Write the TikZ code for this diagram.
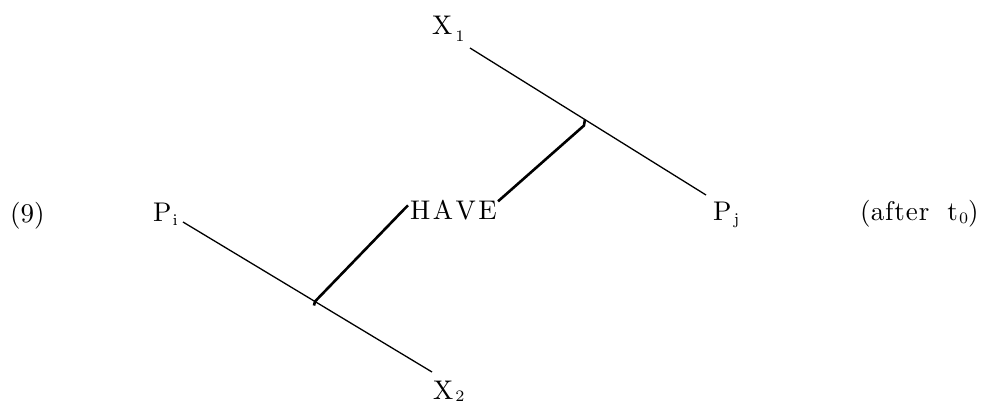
\documentclass[tikz,border=0pt]{standalone}
\font\bigrm=cmr10 at 27pt
\font\subrm=cmr7 at 16pt
\newcommand{\lowsub}[2][5pt]{\raisebox{-#1}{\subrm #2}}
\begin{document}
\begin{tikzpicture}[x=1pt,y=-1pt,
  lbl/.style={font=\bigrm, inner sep=0pt, anchor=base west},
  thinline/.style={line width=1.3pt},
  thickline/.style={line width=2.6pt}]
\useasboundingbox (0,0) rectangle (981,404);
\node[lbl] (nine) at (10,222) {(9)};
\node[lbl] (Pi) at (153,221) {P\kern1pt\lowsub[4pt]{i}};
\node[lbl] (HAVE) at (410,219) {H\kern2.5pt A\kern2.5pt V\kern2.5pt E};
\node[lbl] (Pj) at (713,220) {P\kern2pt\lowsub[4pt]{j}};
\node[lbl] (after) at (860,220) {(a\kern1pt f\kern1pt t\kern1pt e\kern1pt r\hspace{18pt}t\kern1pt\lowsub[3pt]{0})};
\node[lbl] (X1) at (432,35) {X\kern3pt\lowsub[6pt]{1}};
\node[lbl] (X2) at (433,399) {X\kern2pt\lowsub[2pt]{2}};
\coordinate (a1) at (470,48);
\coordinate (a2) at (706,195);
\coordinate (b1) at (183,222);
\coordinate (b2) at (432,372);
\draw[thinline] (a1) -- coordinate[pos=0.487] (j1) (a2);
\draw[thinline] (b1) -- coordinate[pos=0.53] (j2) (b2);
\draw[thickline, line join=round] (j1) -- ++(-1,6) -- ([xshift=1pt,yshift=-1pt]HAVE.north east);
\draw[thickline, line join=round] (j2) ++(-1,4) -- (j2) -- ([xshift=-5pt,yshift=-8pt]HAVE.north west) -- ++(3,-3);
\end{tikzpicture}
\end{document}
